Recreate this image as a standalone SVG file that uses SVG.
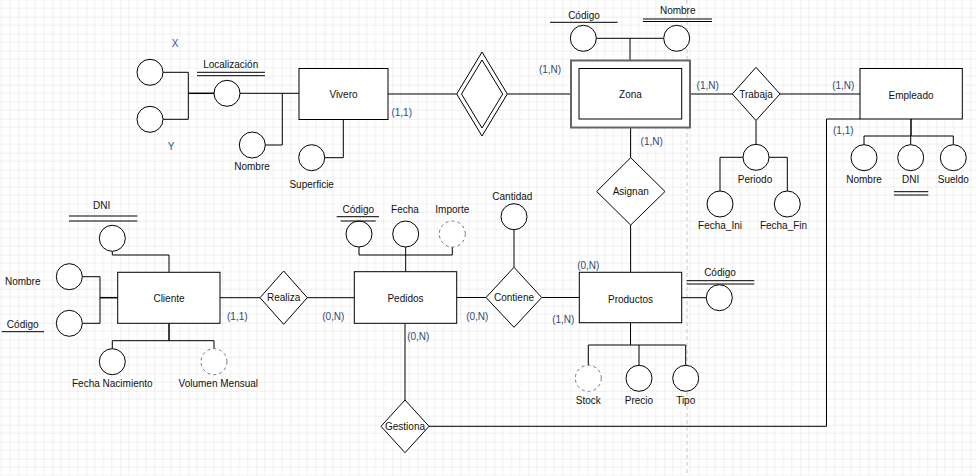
<svg xmlns="http://www.w3.org/2000/svg" width="976" height="476" viewBox="0 0 976 476">
<defs>
<pattern id="grid" x="18.3" y="16.7" width="34" height="34" patternUnits="userSpaceOnUse">
<path d="M8.5 0V34M17 0V34M25.5 0V34M0 8.5H34M0 17H34M0 25.5H34" stroke="#f1f1f1" stroke-width="1" fill="none"/>
<path d="M0 0V34M0 0H34" stroke="#e0e0e0" stroke-width="1" fill="none"/>
</pattern>
<style>
.n{fill:#fff;stroke:#000;stroke-width:1}
.d{fill:#fff;stroke:#777;stroke-width:1;stroke-dasharray:3 3}
.t{font-family:"Liberation Sans",Arial,sans-serif;font-size:10px;fill:#111;text-anchor:middle}
.c{font-family:"Liberation Sans",Arial,sans-serif;font-size:10px;fill:#2d4a73;text-anchor:middle}
.xy{font-family:"Liberation Sans",Arial,sans-serif;font-size:10px;fill:#2a5599;text-anchor:middle}
.u{stroke:#000;stroke-width:1;fill:none}
.e{fill:none;stroke:#000;stroke-width:1}
</style>
</defs>
<rect width="976" height="476" fill="#fff"/>
<rect width="976" height="476" fill="url(#grid)"/>
<line x1="687" y1="0" x2="687" y2="476" stroke="#c8c8c8" stroke-dasharray="4 3"/>

<g id="connectors" class="e">
<polyline points="163,72.3 188.3,72.3 188.3,119.3 163,119.3"/>
<line x1="188.3" y1="93.3" x2="214" y2="93.3" stroke-width="1.5"/>
<line x1="240" y1="93.3" x2="299" y2="93.3"/>
<polyline points="265.3,145 282.3,145 282.3,93.3"/>
<polyline points="324.7,157.7 343.3,157.7 343.3,119.5"/>
<line x1="388" y1="94" x2="456.7" y2="94"/>
<line x1="507.3" y1="94" x2="579" y2="94"/>
<line x1="596.3" y1="38.3" x2="663.7" y2="38.3"/>
<line x1="630" y1="38.3" x2="630" y2="68.5"/>
<line x1="630.6" y1="127.5" x2="630.6" y2="157.7"/>
<line x1="630.6" y1="225" x2="630.6" y2="272.3"/>
<line x1="690" y1="94" x2="732.3" y2="94"/>
<line x1="780" y1="94" x2="860" y2="94"/>
<line x1="756" y1="120.5" x2="756" y2="144.3"/>
<polyline points="743,157.3 720,157.3 720,191"/>
<polyline points="769,157.3 787.3,157.3 787.3,191"/>
<line x1="911" y1="119" x2="911" y2="136" stroke-width="1.5"/>
<polyline points="864,144.7 864,136 953.3,136 953.3,144.7"/>
<line x1="910.7" y1="136" x2="910.7" y2="144.7"/>
<polyline points="429,426.3 826.5,426.3 826.5,119 860,119"/>
<line x1="405" y1="323.3" x2="405" y2="400"/>
<polyline points="112.3,251.3 112.3,255 169,255 169,272.3"/>
<polyline points="82.3,276.7 100,276.7 100,323.3 82.3,323.3"/>
<line x1="100" y1="297.7" x2="117.7" y2="297.7" stroke-width="1.5"/>
<line x1="169" y1="323.3" x2="169" y2="340.7" stroke-width="1.5"/>
<polyline points="112.3,348.7 112.3,340.7 214,340.7 214,348.7"/>
<line x1="220" y1="297.7" x2="260" y2="297.7"/>
<line x1="307.3" y1="297.7" x2="354.3" y2="297.7"/>
<polyline points="359,247 359,255 452.3,255 452.3,247"/>
<line x1="405.7" y1="247" x2="405.7" y2="271.7"/>
<line x1="456.7" y1="297.5" x2="486" y2="297.5"/>
<line x1="514" y1="229.7" x2="514" y2="267.3"/>
<line x1="541.7" y1="297.5" x2="579.3" y2="297.5"/>
<line x1="681.7" y1="297.7" x2="706.3" y2="297.7"/>
<line x1="630.5" y1="322.7" x2="630.5" y2="345"/>
<polyline points="588.3,365.3 588.3,345 685.7,345 685.7,365.3"/>
<line x1="639" y1="345" x2="639" y2="365.3"/>
</g>

<g id="vivero"><rect class="n" x="299" y="68.5" width="89" height="51"/><text class="t" x="343.5" y="97.5">Vivero</text></g>
<g id="attr-x"><circle class="n" cx="150" cy="72.3" r="13"/><text class="xy" x="175" y="47">X</text></g>
<g id="attr-y"><circle class="n" cx="150" cy="119.3" r="13"/><text class="xy" x="171" y="149.5">Y</text></g>
<g id="attr-localizacion"><circle class="n" cx="227" cy="93.3" r="13"/><text class="t" x="230.7" y="68">Localización</text>
<path class="u" d="M197 72.3H265M197 75.7H265"/></g>
<g id="attr-vivero-nombre"><circle class="n" cx="252.3" cy="145" r="13"/><text class="t" x="252" y="170">Nombre</text></g>
<g id="attr-superficie"><circle class="n" cx="311.7" cy="157.7" r="13"/><text class="t" x="311.7" y="187.5">Superficie</text></g>

<g id="rel-vivero-zona"><polygon class="n" points="482,52 507.3,94 482,136 456.7,94"/><polygon class="n" points="482,60 502.7,94 482,128 461.5,94"/></g>

<g id="zona"><rect x="571" y="60.5" width="119" height="67" fill="#fff" stroke="#666" stroke-width="2"/><rect class="n" x="579" y="68.5" width="102.7" height="50.5"/><text class="t" x="630.5" y="98">Zona</text></g>
<g id="attr-zona-codigo"><circle class="n" cx="583.3" cy="38.3" r="13"/><text class="t" x="584" y="18.5">Código</text><path class="u" d="M550 22.3H617.7"/></g>
<g id="attr-zona-nombre"><circle class="n" cx="676.7" cy="38.3" r="13"/><text class="t" x="677.7" y="13.5">Nombre</text><path class="u" d="M643 19H712M643 21.5H712"/></g>

<g id="trabaja"><polygon class="n" points="756,67.3 780,94 756,120.5 732.3,94"/><text class="t" x="756" y="97.5">Trabaja</text></g>
<g id="attr-periodo"><circle class="n" cx="756" cy="157.3" r="13"/><text class="t" x="755" y="182.8">Periodo</text></g>
<g id="attr-fecha-ini"><circle class="n" cx="720" cy="204" r="13"/><text class="t" x="720" y="228.5">Fecha_Ini</text></g>
<g id="attr-fecha-fin"><circle class="n" cx="787.3" cy="204" r="13"/><text class="t" x="783.5" y="228.5">Fecha_Fin</text></g>

<g id="empleado"><rect class="n" x="860" y="68.5" width="102.3" height="50.5"/><text class="t" x="911" y="98.5">Empleado</text></g>
<g id="attr-emp-nombre"><circle class="n" cx="864" cy="157.7" r="13"/><text class="t" x="864" y="183">Nombre</text></g>
<g id="attr-emp-dni"><circle class="n" cx="910.7" cy="157.7" r="13"/><text class="t" x="910.7" y="183">DNI</text><path class="u" d="M894 191.7H928.3M894 195H928.3"/></g>
<g id="attr-sueldo"><circle class="n" cx="953.3" cy="157.7" r="13"/><text class="t" x="953.3" y="183">Sueldo</text></g>

<g id="asignan"><polygon class="n" points="630.7,157.7 665,191.5 630.7,225 596.7,191.5"/><text class="t" x="630.7" y="195">Asignan</text></g>

<g id="cliente"><rect class="n" x="117.7" y="272.3" width="102.3" height="51"/><text class="t" x="169" y="302">Cliente</text></g>
<g id="attr-cli-dni"><circle class="n" cx="112.3" cy="238.3" r="13"/><text class="t" x="101.7" y="208.5">DNI</text><path class="u" d="M69 216H137.3M69 221H137.3"/></g>
<g id="attr-cli-nombre"><circle class="n" cx="69.3" cy="276.7" r="13"/><text class="t" x="22.7" y="285">Nombre</text></g>
<g id="attr-cli-codigo"><circle class="n" cx="69.3" cy="323.3" r="13"/><text class="t" x="22.7" y="327.5">Código</text><path class="u" d="M1.7 331.7H44"/></g>
<g id="attr-fecha-nac"><circle class="n" cx="112.3" cy="361.7" r="13"/><text class="t" x="112.3" y="386.8">Fecha Nacimiento</text></g>
<g id="attr-volumen"><circle class="d" cx="214" cy="361.7" r="13"/><text class="t" x="218.3" y="386.8">Volumen Mensual</text></g>

<g id="realiza"><polygon class="n" points="283.7,271 307.3,297.7 283.7,324.3 260,297.7"/><text class="t" x="283.7" y="301.2">Realiza</text></g>

<g id="pedidos"><rect class="n" x="354.3" y="271.7" width="102.4" height="51.6"/><text class="t" x="405.5" y="302">Pedidos</text></g>
<g id="attr-ped-codigo"><circle class="n" cx="359" cy="234" r="13"/><text class="t" x="358.3" y="212.5">Código</text><path class="u" d="M336.7 216.7H379M340.7 221H375.7"/></g>
<g id="attr-ped-fecha"><circle class="n" cx="405.7" cy="234" r="13"/><text class="t" x="405" y="212.5">Fecha</text></g>
<g id="attr-importe"><circle class="d" cx="452.3" cy="234" r="13"/><text class="t" x="452.3" y="212.5">Importe</text></g>

<g id="contiene"><polygon class="n" points="514,267.3 541.7,297.5 514,327.3 486,297.5"/><text class="t" x="514" y="301">Contiene</text></g>
<g id="attr-cantidad"><circle class="n" cx="514" cy="216.7" r="13"/><text class="t" x="512.3" y="200">Cantidad</text></g>

<g id="productos"><rect class="n" x="579.3" y="272.3" width="102.4" height="50.4"/><text class="t" x="630.5" y="302.5">Productos</text></g>
<g id="attr-prod-codigo"><circle class="n" cx="719.3" cy="297.7" r="13"/><text class="t" x="720" y="276">Código</text><path class="u" d="M686.7 280.7H754.3M686.7 284H754.3"/></g>
<g id="attr-stock"><circle class="d" cx="588.3" cy="378.3" r="13"/><text class="t" x="588.3" y="404">Stock</text></g>
<g id="attr-precio"><circle class="n" cx="639" cy="378.3" r="13"/><text class="t" x="639" y="404">Precio</text></g>
<g id="attr-tipo"><circle class="n" cx="685.7" cy="378.3" r="13"/><text class="t" x="685.7" y="404">Tipo</text></g>

<g id="gestiona"><polygon class="n" points="405,400 429,426.3 405,452.7 381,426.3"/><text class="t" x="405" y="429.8">Gestiona</text></g>

<g id="cardinalities">
<text class="c" x="401.7" y="115.8">(1,1)</text>
<text class="c" x="550" y="72.5">(1,N)</text>
<text class="c" x="651.7" y="144.5">(1,N)</text>
<text class="c" x="707.7" y="89.2">(1,N)</text>
<text class="c" x="843.3" y="89.2">(1,N)</text>
<text class="c" x="843.3" y="133.5">(1,1)</text>
<text class="c" x="237.3" y="320.2">(1,1)</text>
<text class="c" x="333.3" y="320.2">(0,N)</text>
<text class="c" x="477.3" y="319.5">(0,N)</text>
<text class="c" x="563.3" y="322.8">(1,N)</text>
<text class="c" x="588.3" y="268.5">(0,N)</text>
<text class="c" x="418.3" y="340">(0,N)</text>
</g>
</svg>
